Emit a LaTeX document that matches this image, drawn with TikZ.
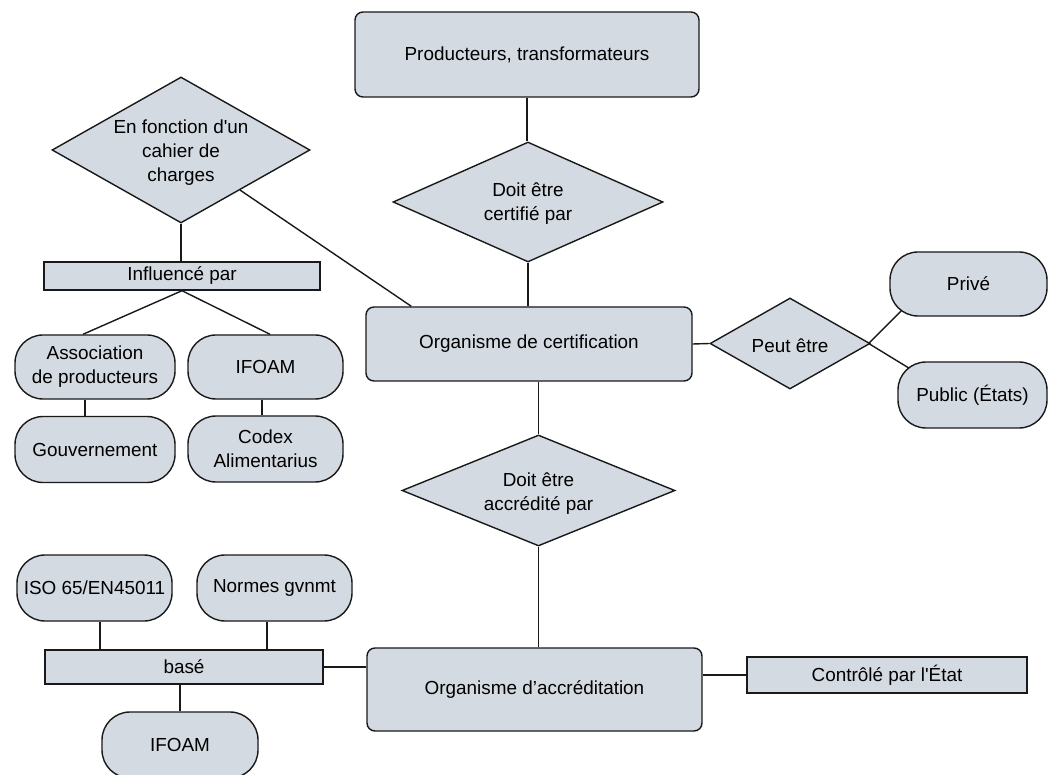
\documentclass[tikz,border=0pt]{standalone}
\usepackage{fontspec}
\setmainfont{Liberation Sans}
\usetikzlibrary{shapes.geometric,backgrounds}
\definecolor{boxfill}{RGB}{212,218,226}
\definecolor{ink}{RGB}{25,25,25}

\begin{document}
\begin{tikzpicture}[x=1pt,y=-1pt,
  every node/.style={font=\fontsize{18.9}{24}\selectfont, text=black},
  shapebase/.style={draw=ink, line width=1.4pt, fill=boxfill, inner sep=2pt, align=center},
  roundbox/.style={shapebase, rectangle, rounded corners=8pt},
  pill/.style={shapebase, rectangle, rounded corners=28pt},
  flatbox/.style={shapebase, rectangle},
  decision/.style={shapebase, diamond, inner sep=0pt},
  link/.style={draw=ink, line width=1.4pt}]

\useasboundingbox (0,0) rectangle (1050,775);

% certification chain
\node[roundbox, minimum width=344pt, minimum height=85pt] (prod) at (527,54.5) {Producteurs, transformateurs};
\node[decision, minimum width=270pt, minimum height=120pt,
      label={[align=center,yshift=-2pt]center:{Doit être\\certifié par}}] (certif) at (528,202) {};
\node[roundbox, minimum width=326pt, minimum height=74pt] (orgcert) at (529,344) {Organisme de certification};
\node[decision, minimum width=273pt, minimum height=111pt,
      label={[align=center,yshift=-3pt]center:{Doit être\\accrédité par}}] (accr) at (538.5,490.5) {};
\node[roundbox, minimum width=335pt, minimum height=83pt] (orgaccr) at (534.5,689.5) {Organisme d’accréditation};

% specifications branch
\node[decision, minimum width=258pt, minimum height=146pt,
      label={[align=center,yshift=-3pt]center:{En fonction d\textquotesingle un\\cahier de\\charges}}] (cahier) at (181,150) {};
\node[flatbox, minimum width=276pt, minimum height=28pt] (influ) at (182,276) {Influencé par};
\node[pill, minimum width=160pt, minimum height=64pt] (assoc) at (95,367) {Association\\de producteurs};
\node[pill, minimum width=155pt, minimum height=64pt] (ifoamA) at (265.5,367) {IFOAM};
\node[pill, minimum width=160pt, minimum height=66pt] (gouv) at (95,449.5) {Gouvernement};
\node[pill, minimum width=155pt, minimum height=66pt] (codex) at (265.5,449) {Codex\\Alimentarius};

% kinds of certifiers
\node[decision, minimum width=160pt, minimum height=91pt,
      label={[yshift=-2pt]center:Peut être}] (peut) at (790,343.5) {};
\node[pill, minimum width=157pt, minimum height=64pt] (prive) at (968.5,284) {Privé};
\node[pill, minimum width=149pt, minimum height=66pt] (public) at (972.5,395) {Public (États)};

% accreditation references
\node[flatbox, minimum width=280pt, minimum height=36pt] (controle) at (887,675) {Contrôlé par l\textquotesingle État};
\node[flatbox, minimum width=278pt, minimum height=34pt] (basenode) at (184,667) {basé};
\node[pill, minimum width=155pt, minimum height=66pt] (iso) at (94.5,588) {ISO 65/EN45011};
\node[pill, minimum width=155pt, minimum height=66pt] (normes) at (274.5,588) {Normes gvnmt};
\node[pill, minimum width=156pt, minimum height=66pt] (ifoamB) at (180,745) {IFOAM};

\begin{pgfonlayer}{background}
  \fill[white] (0,0) rectangle (1050,775);
  \draw[link] (prod.south) -- (prod.south |- certif.north);
  \draw[link] (certif.south) -- (certif.south |- orgcert.north);
  \draw[link] (cahier) -- ([xshift=46pt]orgcert.north west);
  \draw[link] (cahier.south) -- (cahier.south |- influ.north);
  \draw[link] (influ.south) -- ([xshift=-12pt]assoc.north);
  \draw[link] (influ.south) -- ([xshift=4.5pt]ifoamA.north);
  \draw[link] ([xshift=-10pt]assoc.south) -- ([xshift=-10pt]gouv.north);
  \draw[link] ([xshift=-3.5pt]ifoamA.south) -- ([xshift=-3.5pt]codex.north);
  \draw[link] (orgcert.east) -- (peut.west);
  \draw[link] ([xshift=-2pt]peut.east) -- ([xshift=12pt,yshift=6pt]prive.south west);
  \draw[link] ([xshift=-2pt]peut.east) -- ([xshift=12pt,yshift=-7pt]public.north west);
  \draw[link] (accr.north |- orgcert.south) -- (accr.north);
  \draw[link] (accr.south) -- (accr.south |- orgaccr.north);
  \draw[link] (controle.west) -- (controle.west -| orgaccr.east);
  \draw[link] (basenode.east) -- (basenode.east -| orgaccr.west);
  \draw[link] ([xshift=5.5pt]iso.south) -- ([xshift=5.5pt]iso.south |- basenode.north);
  \draw[link] ([xshift=-7.5pt]normes.south) -- ([xshift=-7.5pt]normes.south |- basenode.north);
  \draw[link] (ifoamB.north |- basenode.south) -- (ifoamB.north);
\end{pgfonlayer}
\end{tikzpicture}
\end{document}
